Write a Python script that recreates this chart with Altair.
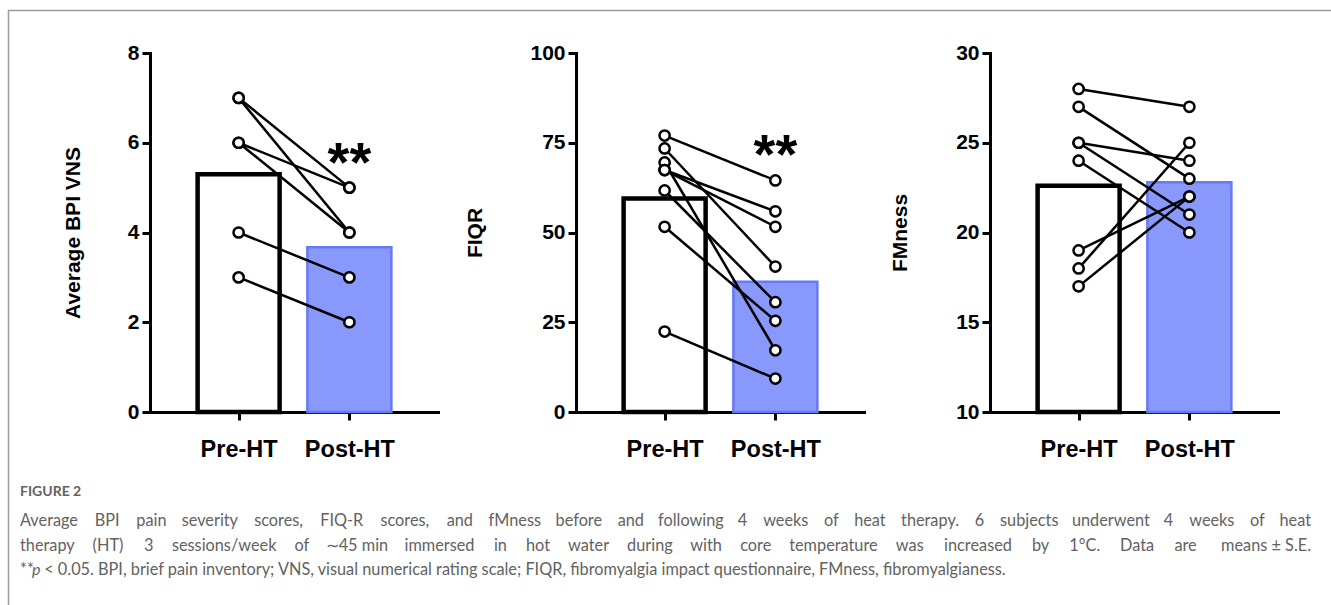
import altair as alt
import pandas as pd

# ---------------- data ----------------
conds = ["Pre-HT", "Post-HT"]

bpi_pre = [7, 7, 6, 6, 4, 3]
bpi_post = [5, 4, 5, 4, 3, 2]
bpi_means = [5.3, 3.67]

fiqr_pre = [77.0, 73.4, 69.5, 67.4, 67.4, 61.7, 51.6, 22.4]
fiqr_post = [64.5, 40.5, 17.2, 55.9, 51.6, 30.6, 25.4, 9.3]
fiqr_means = [59.5, 36.3]

fm_pre = [28, 27, 25, 25, 24, 19, 18, 17]
fm_post = [27, 23, 24, 21, 20, 22, 25, 22]
fm_means = [22.6, 22.8]

y_titles = ["Average BPI VNS", "FIQR", "FMness"]
y_domains = [[0, 8], [0, 100], [10, 30]]
y_ticks = [[0, 2, 4, 6, 8], [0, 25, 50, 75, 100], [10, 15, 20, 25, 30]]
sig_marks = ["**", "**", ""]
sig_y = [5.77, 74.4, None]

fig_label = "FIGURE 2"
caption_lines = [
    "Average BPI pain severity scores, FIQ-R scores, and fMness before and following 4 weeks of heat therapy. 6 subjects underwent 4 weeks of heat",
    "therapy (HT) 3 sessions/week of \u223c45\u00a0min immersed in hot water during with core temperature was increased by 1\u00b0C. Data are means\u00a0\u00b1\u00a0S.E.",
]
caption_last = ["**", "p", "< 0.05. BPI, brief pain inventory; VNS, visual numerical rating scale; FIQR, fibromyalgia impact questionnaire, FMness, fibromyalgianess."]

# ---------------- layout ----------------
W_TOTAL, H_TOTAL = 1331, 605
PLOT_TOP, PLOT_BOTTOM = 53, 412
PANEL_LEFT = [150, 576, 990]
PANEL_W = 288
TITLE_X = [-71, -95, -84]
FONT = "Liberation Sans, Arial, Helvetica, sans-serif"
CAP_FONT = "Lato, Open Sans, sans-serif"
CAP_COLOR = "#626262"


def panel(i, pre, post, means):
    x0 = PANEL_LEFT[i]
    xs = alt.Scale(type="point", domain=conds, range=[x0, x0 + PANEL_W], padding=0.8)
    ys = alt.Scale(domain=y_domains[i], range=[PLOT_BOTTOM, PLOT_TOP], nice=False, zero=False)
    xenc = alt.X(
        "cond:N", scale=xs,
        axis=alt.Axis(
            title=None, orient="bottom", offset=PLOT_BOTTOM - H_TOTAL, labelAngle=0,
            domainColor="black", domainWidth=3, domainCap="square",
            tickColor="black", tickWidth=3, tickSize=8,
            labelFont=FONT, labelFontSize=23.5, labelFontWeight="bold", labelColor="black",
            labelPadding=17, grid=False,
        ),
    )
    yenc = alt.Y(
        "val:Q", scale=ys,
        axis=alt.Axis(
            title=y_titles[i], orient="left", offset=-x0, values=y_ticks[i],
            domainColor="black", domainWidth=3, domainCap="square",
            tickColor="black", tickWidth=3, tickSize=8,
            labelFont=FONT, labelFontSize=21, labelFontWeight="bold", labelColor="black",
            labelPadding=3, labelFlush=False, labelOverlap=False,
            titleFont=FONT, titleFontSize=21, titleFontWeight="bold", titleColor="black",
            titleX=TITLE_X[i], titleBaseline="alphabetic", titleAngle=270, grid=False,
        ),
    )
    ymin = y_domains[i][0]
    bars_df = pd.DataFrame({"cond": conds, "val": means})
    pre_bar = (
        alt.Chart(bars_df).transform_filter(alt.datum.cond == "Pre-HT")
        .mark_bar(width=82, fill="white", stroke="black", strokeWidth=4.5, opacity=1)
        .encode(x=xenc, y=yenc, y2=alt.datum(ymin))
    )
    post_bar = (
        alt.Chart(bars_df).transform_filter(alt.datum.cond == "Post-HT")
        .mark_bar(width=84, fill="#8898fb", stroke="#6679f6", strokeWidth=2.5, opacity=1)
        .encode(x=xenc, y=yenc, y2=alt.datum(ymin))
    )
    n = len(pre)
    pairs = pd.DataFrame({
        "pair": list(range(n)) * 2,
        "cond": ["Pre-HT"] * n + ["Post-HT"] * n,
        "val": list(pre) + list(post),
        "step": [0] * n + [1] * n,
    })
    lines = (
        alt.Chart(pairs).mark_line(color="black", strokeWidth=2.5)
        .encode(x=xenc, y=yenc, detail="pair:N", order="step:Q")
    )
    points = (
        alt.Chart(pairs)
        .mark_point(shape="circle", filled=True, fill="white", stroke="black",
                    strokeWidth=2.5, size=105, opacity=1)
        .encode(x=xenc, y=yenc)
    )
    layers = [pre_bar, post_bar, lines, points]
    if sig_marks[i]:
        star_df = pd.DataFrame({"cond": ["Post-HT"], "val": [sig_y[i]], "label": [sig_marks[i]]})
        stars = (
            alt.Chart(star_df)
            .mark_text(font=FONT, fontSize=56, fontWeight="bold", color="black",
                       baseline="middle", dy=11)
            .encode(x=xenc, y=yenc, text="label:N")
        )
        layers.append(stars)
    return alt.layer(*layers)


panels = [
    panel(0, bpi_pre, bpi_post, bpi_means),
    panel(1, fiqr_pre, fiqr_post, fiqr_means),
    panel(2, fm_pre, fm_post, fm_means),
]

# ---------------- caption layout (approximate justified text) ----------------
AW = {' ': 278, 'a': 556, 'b': 556, 'c': 500, 'd': 556, 'e': 556, 'f': 278, 'g': 556, 'h': 556,
      'i': 222, 'j': 222, 'k': 500, 'l': 222, 'm': 833, 'n': 556, 'o': 556, 'p': 556, 'q': 556,
      'r': 333, 's': 500, 't': 278, 'u': 556, 'v': 500, 'w': 722, 'x': 500, 'y': 500, 'z': 500,
      'A': 667, 'B': 667, 'C': 722, 'D': 722, 'E': 667, 'F': 611, 'G': 778, 'H': 722, 'I': 278,
      'J': 500, 'K': 667, 'L': 556, 'M': 833, 'N': 722, 'O': 778, 'P': 667, 'Q': 778, 'R': 722,
      'S': 667, 'T': 611, 'U': 722, 'V': 667, 'W': 944, 'X': 667, 'Y': 667, 'Z': 611,
      '.': 278, ',': 278, ';': 278, ':': 278, '-': 333, '(': 333, ')': 333, '/': 278, '*': 389,
      '<': 584, '\u223c': 584, '\u00b0': 400, '\u00b1': 584, '\u00a0': 278}
for d in "0123456789":
    AW[d] = 556

CAP_FS = 16.3
K = 0.95
CAP_X0, CAP_X1 = 20, 1311
CAP_Y = [526, 550.5, 575]


def tw(s):
    return sum(AW.get(c, 556) for c in s) / 1000.0 * CAP_FS * K


rows = []
for li, line in enumerate(caption_lines):
    toks = line.split(" ")
    ws = [tw(t) for t in toks]
    gap = (CAP_X1 - CAP_X0 - sum(ws)) / (len(toks) - 1)
    cur = CAP_X0
    for j, (t, w) in enumerate(zip(toks, ws)):
        if j == 0:
            rows.append({"word": t, "px": CAP_X0, "py": CAP_Y[li], "kind": "left"})
        elif j == len(toks) - 1:
            rows.append({"word": t, "px": CAP_X1, "py": CAP_Y[li], "kind": "right"})
        else:
            rows.append({"word": t, "px": cur + w / 2, "py": CAP_Y[li], "kind": "center"})
        cur += w + gap

p_x = CAP_X0 + tw(caption_last[0])
rest_x = p_x + tw(caption_last[1]) + 0.22 * CAP_FS
rows.append({"word": caption_last[0], "px": CAP_X0, "py": CAP_Y[2], "kind": "left"})
rows.append({"word": caption_last[1], "px": p_x, "py": CAP_Y[2], "kind": "italic"})
rows.append({"word": caption_last[2], "px": rest_x, "py": CAP_Y[2], "kind": "left"})
rows.append({"word": fig_label, "px": CAP_X0, "py": 496, "kind": "label"})
cap_df = pd.DataFrame(rows)


def cap_layer(kind, align, **kw):
    return (
        alt.Chart(cap_df).transform_filter(alt.datum.kind == kind)
        .mark_text(align=align, baseline="alphabetic", font=CAP_FONT, color=CAP_COLOR, **kw)
        .encode(x=alt.X("px:Q", scale=None), y=alt.Y("py:Q", scale=None), text="word:N")
    )


cap_layers = [
    cap_layer("left", "left", fontSize=CAP_FS),
    cap_layer("center", "center", fontSize=CAP_FS),
    cap_layer("right", "right", fontSize=CAP_FS),
    cap_layer("italic", "left", fontSize=CAP_FS, fontStyle="italic"),
    cap_layer("label", "left", fontSize=14, fontWeight="bold"),
]

one = pd.DataFrame({"a": [0]})
border_top = alt.Chart(one).mark_rule(color="#9c9c9c", strokeWidth=1.5).encode(
    x=alt.value(8), x2=alt.value(W_TOTAL), y=alt.value(10.5))
border_left = alt.Chart(one).mark_rule(color="#9c9c9c", strokeWidth=1.5).encode(
    x=alt.value(8.5), y=alt.value(10), y2=alt.value(H_TOTAL))

chart = (
    alt.layer(*panels, border_top, border_left, *cap_layers)
    .resolve_scale(x="independent", y="independent")
    .properties(width=W_TOTAL, height=H_TOTAL, autosize=alt.AutoSizeParams(type="none"), padding=0)
    .configure_view(stroke=None)
)

chart.save("out.html", embed_options={"renderer": "svg", "actions": False})
